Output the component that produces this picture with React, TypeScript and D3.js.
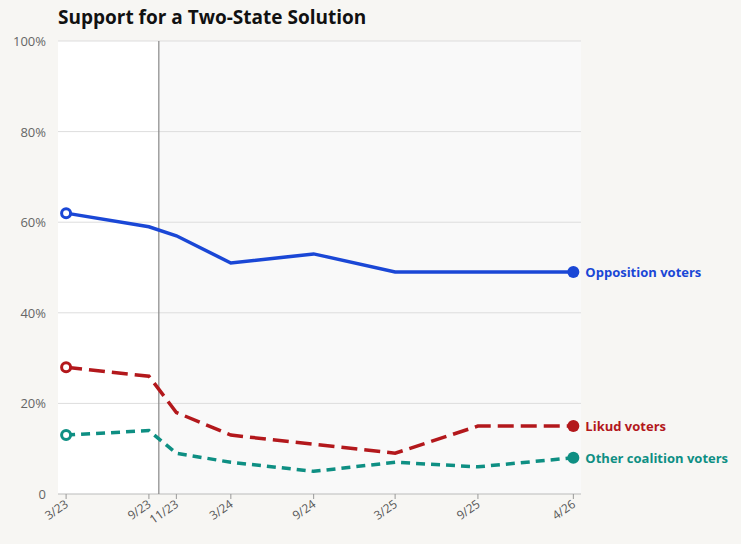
import React from "react";
import * as d3 from "d3";

const dates = ["2023-03-15","2023-09-15","2023-11-15","2024-03-15","2024-09-15","2025-03-15","2025-09-15","2026-04-15"];
const tickLabels = ["3/23","9/23","11/23","3/24","9/24","3/25","9/25","4/26"];
const opposition = [62,59,57,51,53,49,49,49];
const likud = [28,26,18,13,11,9,15,15];
const other = [13,14,9,7,5,7,6,8];
const eventDate = "2023-10-07";
const yTicks = [0,20,40,60,80,100];

const series = [
  { name: "Opposition voters", values: opposition, color: "#1a47d6", dash: "none" },
  { name: "Likud voters", values: likud, color: "#b3181c", dash: "16,7" },
  { name: "Other coalition voters", values: other, color: "#0e8f83", dash: "9,6" },
];

export default function App() {
  const W = 741, H = 544;
  const L = 58, R = 581, T = 41, B = 494;
  const pd = dates.map(d => new Date(d));
  const x = d3.scaleTime()
    .domain([new Date("2023-02-25"), new Date("2026-05-02")])
    .range([L, R]);
  const y = d3.scaleLinear().domain([0, 100]).range([B, T]);
  const ex = x(new Date(eventDate));
  const line = d3.line<number>().x((_, i) => x(pd[i])).y(v => y(v));
  const font = "'Open Sans', 'DejaVu Sans', sans-serif";
  return (
    <svg width={W} height={H} style={{ position: "absolute", left: 0, top: 0, background: "#f7f6f3", fontFamily: font }}>
      <rect x={L} y={T} width={ex - L} height={B - T} fill="#ffffff" />
      <rect x={ex} y={T} width={R - ex} height={B - T} fill="#f9f9f9" />
      <text x={58} y={24} fontSize={19} fontWeight="bold" fill="#111">Support for a Two-State Solution</text>
      {yTicks.map(t => (
        <g key={t}>
          {t > 0 && <line x1={L} x2={R} y1={y(t)} y2={y(t)} stroke="#dddddd" />}
          <text x={L - 12} y={y(t) + 5} textAnchor="end" fontSize={13} fill="#666">{t === 0 ? "0" : `${t}%`}</text>
        </g>
      ))}
      <line x1={L} x2={R} y1={B} y2={B} stroke="#bbbbbb" />
      <line x1={ex} x2={ex} y1={T} y2={B} stroke="#888" strokeWidth={1.2} />
      {pd.map((d, i) => (
        <g key={i} transform={`translate(${x(d)},${B})`}>
          <line y1={0} y2={5} stroke="#999" />
          <text transform="translate(3,12) rotate(-35)" textAnchor="end" fontSize={12} fill="#555">{tickLabels[i]}</text>
        </g>
      ))}
      {series.map(s => {
        const n = s.values.length - 1;
        return (
          <g key={s.name}>
            <path d={line(s.values) || ""} fill="none" stroke={s.color} strokeWidth={3.5} strokeDasharray={s.dash} />
            <circle cx={x(pd[0])} cy={y(s.values[0])} r={4.5} fill="#fff" stroke={s.color} strokeWidth={3} />
            <circle cx={x(pd[n])} cy={y(s.values[n])} r={6} fill={s.color} />
            <text x={x(pd[n]) + 12} y={y(s.values[n]) + 5} fontSize={13} fontWeight="bold" fill={s.color}>{s.name}</text>
          </g>
        );
      })}
    </svg>
  );
}
